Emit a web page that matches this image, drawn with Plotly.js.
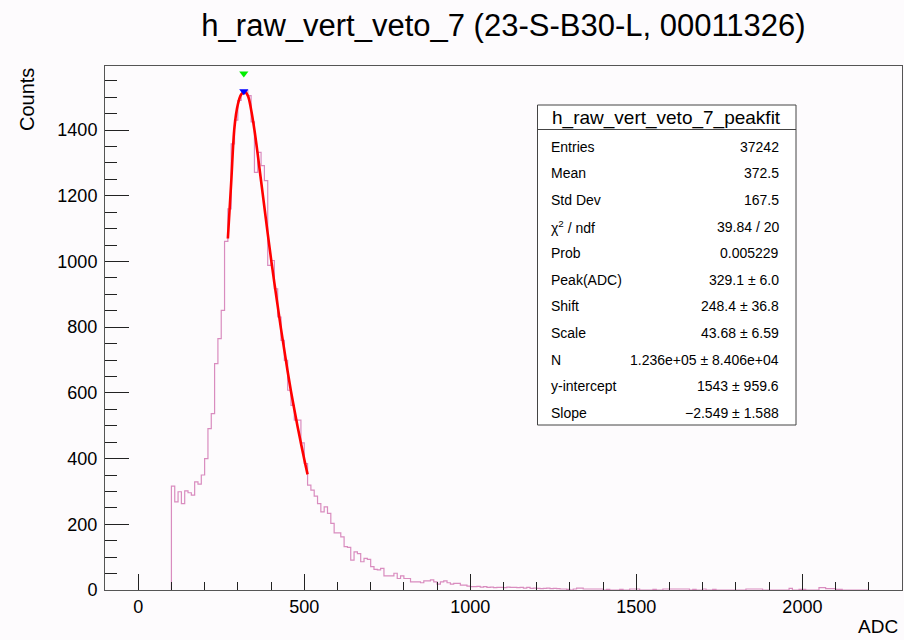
<!DOCTYPE html>
<html>
<head>
<meta charset="utf-8">
<script src="https://cdn.plot.ly/plotly-3.0.1.min.js"></script>
<style>html,body{margin:0;padding:0;background:#fdfbfd;}#chart{width:904px;height:640px;}</style>
</head>
<body>
<div id="chart"></div>
<script>
// ---- Data ----
const binStart = 100;
const binWidth = 10;
const counts = [
  316, 268, 299, 263, 302, 296, 289, 329, 322, 350,
  400, 491, 537, 689, 765, 851, 1061, 1160, 1358, 1430,
  1490, 1510, 1520, 1505, 1425, 1271, 1332, 1292, 1246, 988,
  1003, 917, 831, 760, 699, 608, 562, 517, 517, 448,
  385, 319, 304, 286, 263, 238, 253, 233, 203, 174,
  174, 162, 132, 130, 91, 116, 111, 86, 96, 93,
  71, 63, 61, 66, 43, 43, 43, 51, 35, 43,
  35, 35, 25, 25, 25, 22, 28, 28, 31, 25,
  18, 25, 28, 22, 18, 20, 20, 15, 15, 12,
  10, 10, 11, 9, 10, 8, 9, 7, 8, 8,
  7, 9, 8, 8, 7, 8, 6, 8, 5, 6,
  5, 4, 5, 6, 4, 5, 4, 3, 3, 2,
  0, 3, 6, 6, 3, 3, 3, 3, 3, 3,
  0, 2, 0, 0, 0, 2, 0, 0, 3, 3,
  3, 0, 0, 0, 0, 2, 0, 0, 3, 3,
  3, 3, 3, 3, 3, 3, 0, 2, 0, 0,
  3, 0, 0, 2, 0, 0, 0, 0, 0, 0,
  0, 0, 0, 3, 3, 3, 3, 3, 0, 0,
  0, 0, 0, 0, 0, 0, 5, 0, 0, 2,
  2, 0, 0, 0, 0, 7, 7, 4, 4, 4,
  2, 2, 0, 0, 0, 0, 0, 0, 0, 0
];
// fit curve points
const fitX = [270, 280, 290, 300, 310, 320, 330, 340, 350, 360, 370, 380, 390, 400, 410, 420, 430, 440, 450, 460, 470, 480, 490, 500, 510];
const fitY = [1070, 1240, 1410, 1478, 1508, 1517, 1505, 1462, 1400, 1325, 1245, 1165, 1085, 1008, 935, 865, 795, 730, 665, 605, 550, 497, 447, 398, 352];
// peak markers
const peakMarkX = [318];
const peakMarkY = [1518];
const maxMarkX = [318];
const maxMarkY = [1572];

const titleText = "h_raw_vert_veto_7 (23-S-B30-L, 00011326)";
const xTitle = "ADC";
const yTitle = "Counts";
const statsTitle = "h_raw_vert_veto_7_peakfit";
const statsLabels = ["Entries", "Mean", "Std Dev", "χ<sup>2</sup> / ndf", "Prob", "Peak(ADC)", "Shift", "Scale", "N", "y-intercept", "Slope"];
const statsValues = ["37242", "372.5", "167.5", "39.84 / 20", "0.005229", "329.1 ± 6.0", "248.4 ± 36.8", "43.68 ± 6.59", "1.236e+05 ± 8.406e+04", "1543 ± 959.6", "−2.549 ± 1.588"];

// ---- Build histogram step outline ----
const hx = [binStart], hy = [0];
for (let i = 0; i < counts.length; i++) { hx.push(binStart + i * binWidth); hy.push(counts[i]); }
const binEnd = binStart + counts.length * binWidth;
hx.push(binEnd); hy.push(counts[counts.length - 1]);
hx.push(binEnd); hy.push(0);

// ---- Layout helpers (pixel -> paper) ----
const W = 904, H = 640, L = 105, R = 902, T = 66, B = 590;
const px = x => (x - L) / (R - L);
const py = y => (B - y) / (B - T);
const FONT = "Liberation Sans, Arial, Helvetica, sans-serif";

const traces = [
  { x: hx, y: hy, type: 'scatter', mode: 'lines', line: { shape: 'hv', color: '#d98cbf', width: 1.2 }, hoverinfo: 'skip', showlegend: false },
  { x: fitX, y: fitY, type: 'scatter', mode: 'lines', line: { shape: 'spline', color: '#ff0000', width: 2.6 }, showlegend: false },
  { x: maxMarkX, y: maxMarkY, type: 'scatter', mode: 'markers', marker: { symbol: 'triangle-down', size: 8, color: '#00ee00' }, showlegend: false },
  { x: peakMarkX, y: peakMarkY, type: 'scatter', mode: 'markers', marker: { symbol: 'triangle-down', size: 8, color: '#0000ff' }, showlegend: false }
];

const annotations = [];
annotations.push({ xref: 'paper', yref: 'paper', x: px(27), y: py(100), text: yTitle, textangle: -90, showarrow: false, xanchor: 'center', yanchor: 'middle', font: { family: FONT, size: 20, color: '#000' } });
annotations.push({ xref: 'paper', yref: 'paper', x: px(900), y: py(626), text: xTitle, showarrow: false, xanchor: 'right', yanchor: 'middle', font: { family: FONT, size: 19, color: '#000' } });

// stats box
const boxL = 537.5, boxR = 796, boxT = 105, boxB = 425, sepY = 129.5;
annotations.push({ xref: 'paper', yref: 'paper', x: px((boxL + boxR) / 2), y: py(117.5), text: statsTitle, showarrow: false, xanchor: 'center', yanchor: 'middle', font: { family: FONT, size: 19, color: '#000' } });
for (let i = 0; i < statsLabels.length; i++) {
  const yc = 146.7 + i * 26.6;
  annotations.push({ xref: 'paper', yref: 'paper', x: px(549), y: py(yc), text: statsLabels[i], showarrow: false, xanchor: 'left', yanchor: 'middle', font: { family: FONT, size: 14, color: '#000' } });
  annotations.push({ xref: 'paper', yref: 'paper', x: px(781), y: py(yc), text: statsValues[i], showarrow: false, xanchor: 'right', yanchor: 'middle', font: { family: FONT, size: 14, color: '#000' } });
}

const shapes = [
  { type: 'rect', xref: 'paper', yref: 'paper', x0: px(boxL), x1: px(boxR), y0: py(boxB), y1: py(boxT), fillcolor: '#ffffff', line: { color: '#444', width: 1 }, layer: 'above' },
  { type: 'line', xref: 'paper', yref: 'paper', x0: px(boxL), x1: px(boxR), y0: py(sepY), y1: py(sepY), line: { color: '#444', width: 1 }, layer: 'above' }
];

const layout = {
  width: W, height: H,
  margin: { l: L, r: W - R, t: T, b: H - B, pad: 0 },
  paper_bgcolor: '#fdfbfd', plot_bgcolor: '#fdfbfd',
  font: { family: FONT, color: '#000' },
  title: { text: titleText, x: 0.5, xref: 'paper', xanchor: 'center', y: 1 - 25 / H, yref: 'container', yanchor: 'middle', font: { family: FONT, size: 31, color: '#000' } },
  xaxis: {
    range: [-100, 2300], tick0: 0, dtick: 500, ticks: 'inside', ticklen: 16, tickwidth: 1, tickcolor: '#222',
    showline: true, linecolor: '#555', linewidth: 1, mirror: true, showgrid: false, zeroline: false,
    tickfont: { family: FONT, size: 18, color: '#000' },
    minor: { dtick: 100, tick0: 0, ticks: 'inside', ticklen: 8, tickwidth: 1, tickcolor: '#222', showgrid: false }
  },
  yaxis: {
    range: [0, 1595], tick0: 0, dtick: 200, ticks: 'inside', ticklen: 24, tickwidth: 1, tickcolor: '#222',
    showline: true, linecolor: '#555', linewidth: 1, mirror: true, showgrid: false, zeroline: false,
    ticklabelstandoff: 3,
    tickfont: { family: FONT, size: 18, color: '#000' },
    minor: { dtick: 50, tick0: 0, ticks: 'inside', ticklen: 12, tickwidth: 1, tickcolor: '#222', showgrid: false }
  },
  annotations: annotations,
  shapes: shapes,
  showlegend: false
};

Plotly.newPlot('chart', traces, layout, { displayModeBar: false, staticPlot: true });
</script>
</body>
</html>
